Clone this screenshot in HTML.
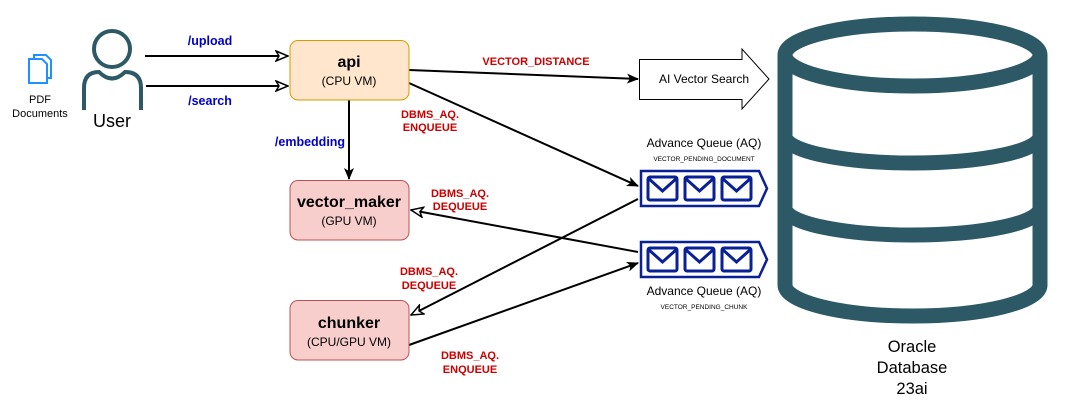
<!DOCTYPE html>
<html><head><meta charset="utf-8"><style>
html,body{margin:0;padding:0;background:#fff;}
svg{display:block;font-family:"Liberation Sans",Arial,sans-serif;}
.b{font-weight:bold;font-size:11px;text-anchor:middle;}
.bl{font-weight:bold;font-size:12.5px;text-anchor:middle;fill:#0000cc;}
.red{fill:#cc0000;}
</style></head><body>
<svg width="1065" height="410" viewBox="0 0 1065 410" xmlns="http://www.w3.org/2000/svg">
<defs>
<marker id="fa" markerWidth="12" markerHeight="10" refX="11" refY="5" orient="auto" markerUnits="userSpaceOnUse"><path d="M0,0 L12,5 L0,10 L3,5 Z" fill="#000"/></marker>
<marker id="oa" markerWidth="14" markerHeight="12" refX="13" refY="6" orient="auto" markerUnits="userSpaceOnUse"><path d="M1,1 L13,6 L1,11 L4,6 Z" fill="#fff" stroke="#000" stroke-width="1.5"/></marker>
</defs>

<!-- PDF icon -->
<g fill="#fff" stroke="#1e90ff" stroke-width="2">
<path d="M34,55 H46 L51,60 V78 H34 Z"/>
<path d="M29,59 H42 L47,64 V83 H29 Z"/>
</g>
<text x="40" y="103" font-size="11" text-anchor="middle">PDF</text>
<text x="40" y="117" font-size="11" text-anchor="middle">Documents</text>

<!-- User -->
<g fill="none" stroke="#2d5967" stroke-width="4">
<circle cx="112" cy="49" r="18"/>
<path d="M84,110 V88 Q84,72 99,72 Q112,85 125,72 Q141,72 141,88 V110"/>
</g>
<text x="112" y="127" font-size="18" text-anchor="middle">User</text>

<!-- Lines -->
<g stroke="#000" stroke-width="2" fill="none">
<line x1="145" y1="56" x2="288" y2="56" marker-end="url(#oa)"/>
<line x1="146" y1="86" x2="288" y2="86" marker-end="url(#oa)"/>
<line x1="349" y1="100" x2="349" y2="179" marker-end="url(#fa)"/>
<line x1="409" y1="70" x2="638" y2="79" marker-end="url(#fa)"/>
<line x1="409" y1="83" x2="638" y2="186" marker-end="url(#fa)"/>
<line x1="638" y1="199" x2="411" y2="315" marker-end="url(#oa)"/>
<line x1="638" y1="252" x2="411" y2="210" marker-end="url(#oa)"/>
<line x1="409" y1="345" x2="638" y2="263" marker-end="url(#fa)"/>
</g>

<text x="210" y="45" class="bl">/upload</text>
<text x="210" y="105" class="bl">/search</text>
<text x="310" y="146" class="bl">/embedding</text>
<text x="536" y="65" class="b red">VECTOR_DISTANCE</text>
<text x="430" y="118" class="b red">DBMS_AQ.</text>
<text x="430" y="131" class="b red">ENQUEUE</text>
<text x="460" y="197" class="b red">DBMS_AQ.</text>
<text x="460" y="210" class="b red">DEQUEUE</text>
<text x="429" y="275" class="b red">DBMS_AQ.</text>
<text x="429" y="289" class="b red">DEQUEUE</text>
<text x="470" y="359" class="b red">DBMS_AQ.</text>
<text x="470" y="373" class="b red">ENQUEUE</text>

<!-- Boxes -->
<rect x="290" y="40.5" width="119" height="59.5" rx="8" fill="#ffe6cc" stroke="#d79b00"/>
<text x="349" y="67" font-size="16" font-weight="bold" text-anchor="middle">api</text>
<text x="349" y="85" font-size="12" text-anchor="middle">(CPU VM)</text>
<rect x="290" y="180.5" width="119" height="59.5" rx="8" fill="#f8cecc" stroke="#b85450"/>
<text x="349" y="207" font-size="16" font-weight="bold" text-anchor="middle">vector_maker</text>
<text x="349" y="225" font-size="12" text-anchor="middle">(GPU VM)</text>
<rect x="290" y="300.5" width="119" height="59.5" rx="8" fill="#f8cecc" stroke="#b85450"/>
<text x="349" y="328" font-size="16" font-weight="bold" text-anchor="middle">chunker</text>
<text x="349" y="346" font-size="12" text-anchor="middle">(CPU/GPU VM)</text>

<!-- AI Vector Search -->
<path d="M639.5,59.5 H742 V49 L769,79 L742,109 V99.5 H639.5 Z" fill="#fff" stroke="#000" stroke-width="1"/>
<text x="704" y="83" font-size="12" text-anchor="middle">AI Vector Search</text>

<!-- Queues -->
<text x="704" y="147" font-size="12" text-anchor="middle">Advance Queue (AQ)</text>
<text x="704" y="161" font-size="6.5" text-anchor="middle">VECTOR_PENDING_DOCUMENT</text>
<g stroke="#0a2196" stroke-width="2.5" fill="#fff">
<path d="M641,171 H759 L767,188.5 L759,206 H641 Z"/>
<g stroke-width="3">
<rect x="648" y="177" width="29" height="23" rx="2"/><path d="M648,178 L662.5,191 L677,178" fill="none"/>
<rect x="685" y="177" width="29" height="23" rx="2"/><path d="M685,178 L699.5,191 L714,178" fill="none"/>
<rect x="722" y="177" width="29" height="23" rx="2"/><path d="M722,178 L736.5,191 L751,178" fill="none"/>
</g>
<path d="M641,242 H759 L767,259.5 L759,277 H641 Z"/>
<g stroke-width="3">
<rect x="648" y="248" width="29" height="23" rx="2"/><path d="M648,249 L662.5,262 L677,249" fill="none"/>
<rect x="685" y="248" width="29" height="23" rx="2"/><path d="M685,249 L699.5,262 L714,249" fill="none"/>
<rect x="722" y="248" width="29" height="23" rx="2"/><path d="M722,249 L736.5,262 L751,249" fill="none"/>
</g>
</g>
<text x="704" y="295" font-size="12" text-anchor="middle">Advance Queue (AQ)</text>
<text x="704" y="309" font-size="6.5" text-anchor="middle">VECTOR_PENDING_CHUNK</text>

<!-- Database cylinder -->
<g fill="none" stroke="#2d5967" stroke-width="15">
<ellipse cx="912.5" cy="55" rx="127.5" ry="31"/>
<path d="M785,55 V285 A127.5,31 0 0 0 1040,285 V55"/>
<path d="M785,136 A127.5,27 0 0 0 1040,136"/>
<path d="M785,208 A127.5,27 0 0 0 1040,208"/>
</g>
<text x="912" y="352" font-size="16.5" text-anchor="middle">Oracle</text>
<text x="912" y="373" font-size="16.5" text-anchor="middle">Database</text>
<text x="912" y="394" font-size="16.5" text-anchor="middle">23ai</text>
</svg>
</body></html>
